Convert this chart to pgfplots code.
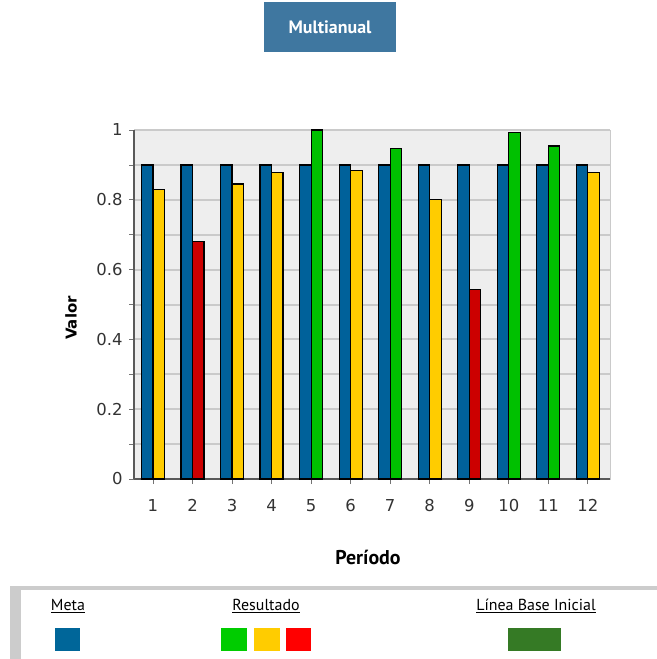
\documentclass[border=0pt]{standalone}
\usepackage{pgfplots}
\pgfplotsset{compat=1.18}
\usepackage{fontspec}
\setmainfont{PT Sans}
\newfontfamily\dejavu{DejaVu Sans}
\definecolor{metablue}{HTML}{00619A}
\definecolor{resyellow}{HTML}{FFCC00}
\definecolor{resred}{HTML}{CC0000}
\definecolor{resgreen}{HTML}{00C000}
\definecolor{titleblue}{HTML}{3F77A0}
\definecolor{legblue}{HTML}{006699}
\definecolor{leggreen}{HTML}{00CC00}
\definecolor{legred}{HTML}{FF0000}
\definecolor{legdkgreen}{HTML}{357A25}
\definecolor{plotbg}{HTML}{EEEEEE}
\definecolor{gridc}{HTML}{CACACA}
\begin{document}
\begin{tikzpicture}
\path[use as bounding box] (0bp,0bp) rectangle (657bp,-659bp);
% title
\fill[titleblue] (264bp,-2bp) rectangle (396bp,-52bp);
\node[white, font=\bfseries\fontsize{18}{18}\selectfont] at (330bp,-27bp) {Multianual};
\begin{axis}[
  at={(134bp,-479bp)}, anchor=south west,
  scale only axis, width=476bp, height=349bp,
  xmin=0.52, xmax=12.56, ymin=0, ymax=1,
  axis background/.style={fill=plotbg, draw=gridc},
  axis x line=bottom, axis y line=left,
  axis line style={-, draw=black!65, line width=1.4bp},
  xtick={1,...,12},
  ytick={0,0.2,0.4,0.6,0.8,1},
  minor ytick={0.1,0.3,0.5,0.7,0.9},
  yticklabels={0,0.2,0.4,0.6,0.8,1},
  ymajorgrids, yminorgrids,
  major grid style={draw=gridc, line width=2bp},
  minor grid style={draw=gridc, line width=2bp},
  tick align=outside,
  major tick length=5bp, minor tick length=5bp,
  tick style={draw=black!55, line width=0.8bp},
  /pgf/number format/assume math mode=true,
  tick label style={font=\dejavu\fontsize{16.5}{16.5}\selectfont, text=black!80},
  xticklabel style={yshift=-12bp},
  yticklabel style={xshift=-3bp},
  clip=false,
]
\addplot[ybar, bar width=11.5bp, bar shift=-5.75bp, fill=metablue, draw=black, line width=1.2bp]
  coordinates {(1,0.9) (2,0.9) (3,0.9) (4,0.9) (5,0.9) (6,0.9) (7,0.9) (8,0.9) (9,0.9) (10,0.9) (11,0.9) (12,0.9)};
\addplot[ybar, bar width=11.5bp, bar shift=5.75bp, fill=resyellow, draw=black, line width=1.2bp]
  coordinates {(1,0.83) (3,0.845) (4,0.878) (6,0.884) (8,0.80) (12,0.878)};
\addplot[ybar, bar width=11.5bp, bar shift=5.75bp, fill=resred, draw=black, line width=1.2bp]
  coordinates {(2,0.68) (9,0.544)};
\addplot[ybar, bar width=11.5bp, bar shift=5.75bp, fill=resgreen, draw=black, line width=1.2bp]
  coordinates {(5,1.0) (7,0.948) (10,0.993) (11,0.954)};
\end{axis}
% axis labels
\node[rotate=90, font=\dejavu\bfseries\fontsize{15}{15}\selectfont] at (71bp,-318bp) {Valor};
\node[font=\bfseries\fontsize{20}{20}\selectfont] at (368bp,-557bp) {Período};
% legend panel
\fill[black!20] (10bp,-586bp) rectangle (657bp,-590bp);
\fill[black!20] (10bp,-586bp) rectangle (21bp,-659bp);
\node[font=\fontsize{16}{16}\selectfont, text=black] at (68bp,-606bp) {\underline{Meta}};
\fill[legblue] (55bp,-628bp) rectangle (80bp,-651bp);
\node[font=\fontsize{16}{16}\selectfont, text=black] at (266bp,-606bp) {\underline{Resultado}};
\fill[leggreen] (221bp,-628bp) rectangle (247bp,-651bp);
\fill[resyellow] (254bp,-628bp) rectangle (280bp,-651bp);
\fill[legred] (286bp,-628bp) rectangle (311bp,-651bp);
\node[font=\fontsize{16}{16}\selectfont, text=black] at (536bp,-606bp) {\underline{Línea Base Inicial}};
\fill[legdkgreen] (508bp,-628bp) rectangle (561bp,-651bp);
\end{tikzpicture}
\end{document}
